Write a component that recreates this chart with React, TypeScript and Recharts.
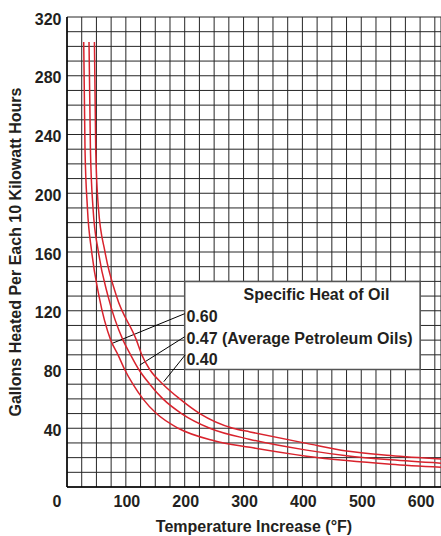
import React from "react"
import {
  LineChart,
  Line,
  XAxis,
  YAxis,
  CartesianGrid,
  ReferenceArea,
  ReferenceLine,
  ReferenceDot,
  Label,
} from "recharts"

// temperature rise (°F) / gallons
const temps060 = [28.4, 30.6, 34.7, 42, 54.4, 74.3, 86.7, 98, 112, 129, 152, 189, 250, 311, 407, 475, 550, 636]
const gal060 = [303, 230, 190, 160, 130, 100, 90, 80, 70, 60, 50, 40, 31.5, 27, 21, 18, 15.5, 13.4]

const temps047 = [37.4, 39.8, 44.2, 53.4, 69.7, 95.2, 108, 122, 140.6, 163, 194.6, 242.7, 311, 407, 475, 550, 636]
const gal047 = [303, 230, 190, 160, 130, 100, 90, 80, 70, 60, 50, 40, 32.4, 25.1, 21.3, 18.5, 16.2]

const temps040 = [46.6, 48.8, 53.4, 64.6, 84, 118, 127, 140.6, 163, 191.6, 225.7, 282, 311, 407, 475, 550, 636]
const gal040 = [303, 230, 190, 160, 130, 100, 90, 80, 70, 60, 50, 40, 37.5, 29.7, 24.5, 21.5, 19]

const xTicks = Array.from({ length: 26 }, (_, i) => i * 25)
const yTicks = Array.from({ length: 33 }, (_, i) => i * 10)

const legendTitle = "Specific Heat of Oil"
const legendLabels = ["0.60", "0.47 (Average Petroleum Oils)", "0.40"]

const toPoints = (ts: number[], gs: number[]) => ts.map((t, i) => ({ t, g: gs[i] }))
const curve060 = toPoints(temps060, gal060)
const curve047 = toPoints(temps047, gal047)
const curve040 = toPoints(temps040, gal040)

const FONT = "'Liberation Sans', Arial, sans-serif"
const INK = "#231f20"
const RED = "#d9232d"
const GRID = "#262626"

const XTick = (props: any) => {
  const { x, y, payload } = props
  const v = payload.value
  if (v % 100 !== 0) return <g />
  return (
    <text x={v === 0 ? x - 10 : x + 1} y={y + 19.5} textAnchor="middle" fontFamily={FONT} fontWeight="bold" fontSize={16} fill={INK}>
      {v}
    </text>
  )
}

const YTick = (props: any) => {
  const { x, y, payload } = props
  const v = payload.value
  if (v % 40 !== 0 || v === 0) return <g />
  return (
    <text x={x - 5.5} y={y + 7.5} textAnchor="end" fontFamily={FONT} fontWeight="bold" fontSize={16} fill={INK}>
      {v}
    </text>
  )
}

const YTitle = (props: any) => {
  const vb = props.viewBox || {}
  const cy = vb.y + vb.height / 2
  const cx = 15
  return (
    <text
      x={cx}
      y={cy}
      transform={`rotate(-90, ${cx}, ${cy})`}
      textAnchor="middle"
      dominantBaseline="central"
      fontFamily={FONT}
      fontWeight="bold"
      fontSize={16}
      fill={INK}
    >
      Gallons Heated Per Each 10 Kilowatt Hours
    </text>
  )
}

const boxText = (value: string, anchor: "start" | "middle") => (props: any) => {
  const vb = props.viewBox || {}
  const x = vb.cx !== undefined ? vb.cx : vb.x
  const y = vb.cy !== undefined ? vb.cy : vb.y
  return (
    <text x={x} y={y} textAnchor={anchor} dominantBaseline="central" fontFamily={FONT} fontWeight="bold" fontSize={16} fill={INK}>
      {value}
    </text>
  )
}

export default function App() {
  return (
    <div style={{ position: "absolute", left: 0, top: 0 }}>
      <LineChart width={441} height={536} margin={{ top: 17, right: 0, bottom: 0, left: 0 }}>
        <CartesianGrid stroke={GRID} strokeWidth={1} />
        <XAxis
          type="number"
          dataKey="t"
          domain={[0, 635.5]}
          ticks={xTicks}
          allowDataOverflow
          height={49}
          tickLine={false}
          tickSize={0}
          tickMargin={0}
          axisLine={{ stroke: "#000", strokeWidth: 1.5 }}
          tick={<XTick />}
          interval={0}
        >
          <Label value="Temperature Increase (°F)" position="insideBottom" offset={4} fontFamily={FONT} fontWeight="bold" fontSize={16} fill={INK} />
        </XAxis>
        <YAxis
          type="number"
          domain={[0, 320]}
          ticks={yTicks}
          allowDataOverflow
          width={67}
          tickLine={false}
          tickSize={0}
          tickMargin={0}
          axisLine={{ stroke: "#000", strokeWidth: 1.5 }}
          tick={<YTick />}
          interval={0}
        >
          <Label content={<YTitle />} />
        </YAxis>

        <ReferenceArea x1={200} x2={600} y1={80} y2={140} fill="#fff" fillOpacity={1} stroke="#555" strokeWidth={1.5} />
        <ReferenceLine segment={[{ x: 200, y: 118 }, { x: 78, y: 98 }]} stroke="#000" strokeWidth={1} />
        <ReferenceLine segment={[{ x: 200, y: 102.3 }, { x: 123.6, y: 83 }]} stroke="#000" strokeWidth={1} />
        <ReferenceLine segment={[{ x: 201, y: 90 }, { x: 164.4, y: 71.7 }]} stroke="#000" strokeWidth={1} />

        <ReferenceDot x={424} y={130.8} r={0} label={{ content: boxText(legendTitle, "middle") }} />
        <ReferenceDot x={203} y={116} r={0} label={{ content: boxText(legendLabels[0], "start") }} />
        <ReferenceDot x={203} y={101.3} r={0} label={{ content: boxText(legendLabels[1], "start") }} />
        <ReferenceDot x={203} y={87} r={0} label={{ content: boxText(legendLabels[2], "start") }} />

        <Line data={curve060} dataKey="g" type="monotone" stroke={RED} strokeWidth={1.5} dot={false} isAnimationActive={false} />
        <Line data={curve047} dataKey="g" type="monotone" stroke={RED} strokeWidth={1.5} dot={false} isAnimationActive={false} />
        <Line data={curve040} dataKey="g" type="monotone" stroke={RED} strokeWidth={1.5} dot={false} isAnimationActive={false} />
      </LineChart>
    </div>
  )
}
